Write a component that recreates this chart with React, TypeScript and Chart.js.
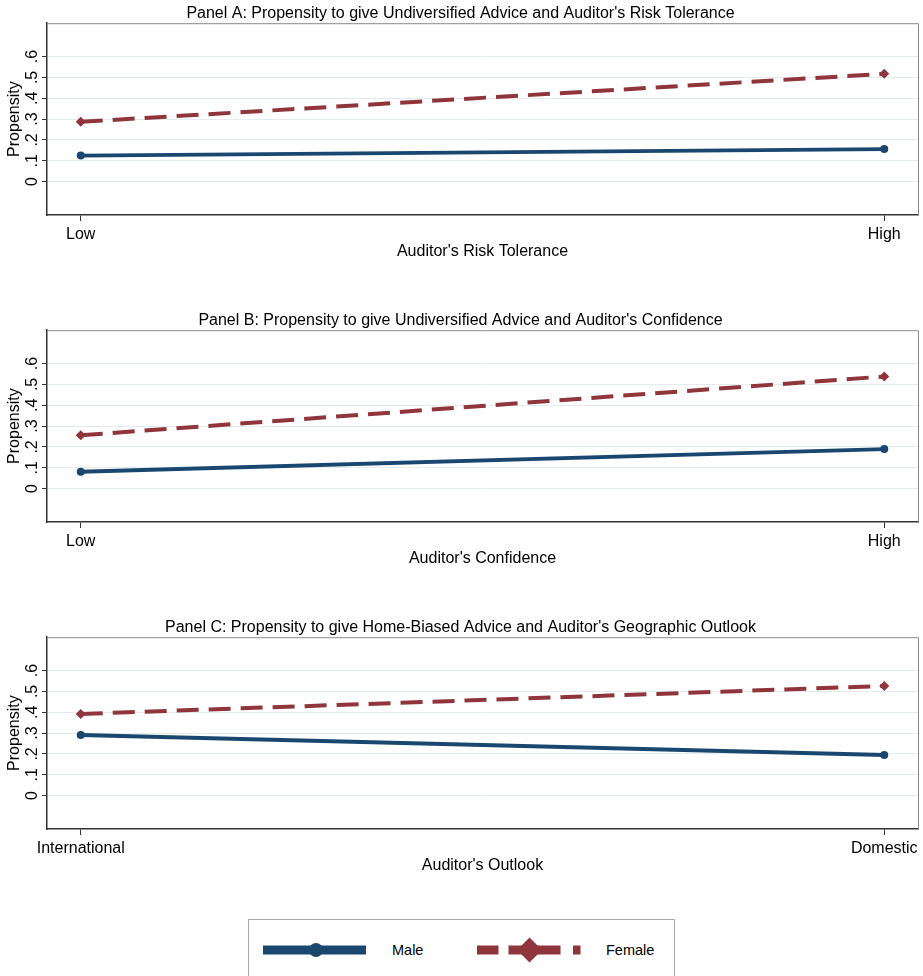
import React, { useEffect, useRef } from "react";
import { Chart, registerables } from "chart.js";

Chart.register(...registerables);

// ---------- data ----------
const xPositions = [0, 1];
const yTicks = [0, 0.1, 0.2, 0.3, 0.4, 0.5, 0.6];
const yTickLabels = ["0", ".1", ".2", ".3", ".4", ".5", ".6"];

const titleA = "Panel A: Propensity to give Undiversified Advice and Auditor's Risk Tolerance";
const titleB = "Panel B: Propensity to give Undiversified Advice and Auditor's Confidence";
const titleC = "Panel C: Propensity to give Home-Biased Advice and Auditor's Geographic Outlook";

const xTitleA = "Auditor's Risk Tolerance";
const xTitleB = "Auditor's Confidence";
const xTitleC = "Auditor's Outlook";

const xLabelsA = ["Low", "High"];
const xLabelsB = ["Low", "High"];
const xLabelsC = ["International", "Domestic"];

const maleA = [0.125, 0.156];
const femaleA = [0.287, 0.517];
const maleB = [0.081, 0.19];
const femaleB = [0.256, 0.538];
const maleC = [0.291, 0.195];
const femaleC = [0.392, 0.526];

const yTitle = "Propensity";
const seriesNames = ["Male", "Female"];

// ---------- style ----------
const FONT = '"Liberation Sans", Arial, Helvetica, sans-serif';
const MALE_COLOR = "#1a476f";
const FEMALE_COLOR = "#90353b";
const GRID_COLOR = "#e4ecef";
const AXIS_COLOR = "#333333";
const PANEL_H = 307;
const FS = 16;

const frameBorder = {
  id: "frameBorder",
  afterDraw(chart: any) {
    const { ctx, chartArea } = chart;
    ctx.save();
    ctx.strokeStyle = "#8a8a8a";
    ctx.lineWidth = 1;
    ctx.beginPath();
    ctx.moveTo(chartArea.left, chartArea.top + 0.5);
    ctx.lineTo(chartArea.right + 0.5, chartArea.top + 0.5);
    ctx.lineTo(chartArea.right + 0.5, chartArea.bottom);
    ctx.stroke();
    ctx.restore();
  },
};

type PanelProps = {
  title: string;
  xTitle: string;
  xLabels: string[];
  male: number[];
  female: number[];
  top: number;
};

function Panel({ title, xTitle, xLabels, male, female, top }: PanelProps) {
  const ref = useRef<HTMLCanvasElement | null>(null);
  useEffect(() => {
    if (!ref.current) return;
    const chart = new Chart(ref.current, {
      type: "line",
      data: {
        datasets: [
          {
            label: seriesNames[0],
            data: xPositions.map((x, i) => ({ x, y: male[i] })),
            borderColor: MALE_COLOR,
            backgroundColor: MALE_COLOR,
            borderWidth: 3.8,
            pointStyle: "circle",
            pointRadius: 4,
            pointBorderWidth: 0,
            pointBackgroundColor: MALE_COLOR,
            tension: 0,
          },
          {
            label: seriesNames[1],
            data: xPositions.map((x, i) => ({ x, y: female[i] })),
            borderColor: FEMALE_COLOR,
            backgroundColor: FEMALE_COLOR,
            borderWidth: 4,
            borderDash: [22, 10],
            pointStyle: "rectRot",
            pointRadius: 5,
            pointBorderWidth: 0,
            pointBackgroundColor: FEMALE_COLOR,
            tension: 0,
          },
        ],
      },
      options: {
        animation: false,
        responsive: false,
        maintainAspectRatio: false,
        layout: { padding: { left: 0, right: 2, top: 0, bottom: PANEL_H - 215 - 46 } },
        plugins: {
          legend: { display: false },
          tooltip: { enabled: false },
          title: {
            display: true,
            text: title,
            color: "#000",
            font: { family: FONT, size: FS, weight: "normal" },
            padding: { top: 4, bottom: 0 },
          },
        },
        scales: {
          x: {
            type: "linear",
            min: -0.042,
            max: 1.042,
            afterBuildTicks: (scale: any) => {
              scale.ticks = xPositions.map((v) => ({ value: v }));
            },
            afterFit: (scale: any) => {
              scale.height = 46;
            },
            ticks: {
              autoSkip: false,
              maxRotation: 0,
              minRotation: 0,
              padding: 4,
              color: "#000",
              font: { family: FONT, size: FS },
              callback: (_v: any, i: number) => xLabels[i],
            },
            grid: {
              drawOnChartArea: false,
              drawTicks: true,
              tickLength: 6,
              tickColor: AXIS_COLOR,
              tickWidth: 1,
            },
            border: { display: true, color: AXIS_COLOR, width: 1.5 },
            title: {
              display: true,
              text: xTitle,
              color: "#000",
              font: { family: FONT, size: FS },
              padding: { top: 0, bottom: 0 },
            },
          },
          y: {
            type: "linear",
            min: -0.16,
            max: 0.76,
            afterBuildTicks: (scale: any) => {
              scale.ticks = yTicks.map((v) => ({ value: v }));
            },
            afterFit: (scale: any) => {
              scale.width = 47;
            },
            ticks: {
              autoSkip: false,
              minRotation: 90,
              maxRotation: 90,
              crossAlign: "center",
              padding: 3,
              color: "#000",
              font: { family: FONT, size: FS },
              callback: (_v: any, i: number) => yTickLabels[i],
            },
            grid: {
              drawOnChartArea: true,
              color: GRID_COLOR,
              lineWidth: 1,
              drawTicks: true,
              tickLength: 5,
              tickColor: AXIS_COLOR,
              tickWidth: 1,
            },
            border: { display: true, color: AXIS_COLOR, width: 1.5 },
            title: {
              display: true,
              text: yTitle,
              color: "#000",
              font: { family: FONT, size: FS },
              padding: { top: 5, bottom: 0 },
            },
          },
        },
      },
      plugins: [frameBorder],
    } as any);
    return () => chart.destroy();
  }, []);
  return (
    <div style={{ position: "absolute", left: 0, top, width: 923, height: PANEL_H }}>
      <canvas ref={ref} width={923} height={PANEL_H} style={{ width: 923, height: PANEL_H, display: "block" }} />
    </div>
  );
}

function Legend() {
  return (
    <div
      style={{
        position: "absolute",
        left: 248,
        top: 919,
        width: 427,
        height: 80,
        border: "1.5px solid #a9a9a9",
        boxSizing: "border-box",
        background: "#fff",
        fontFamily: FONT,
        fontSize: 14.5,
        color: "#000",
      }}
    >
      <svg style={{ position: "absolute", left: 14, top: 20 }} width={110} height={20}>
        <line x1={0} y1={10} x2={103} y2={10} stroke={MALE_COLOR} strokeWidth={9} />
        <circle cx={53} cy={10} r={7} fill={MALE_COLOR} />
      </svg>
      <div style={{ position: "absolute", left: 143, top: 21, lineHeight: "18px" }}>{seriesNames[0]}</div>
      <svg style={{ position: "absolute", left: 228, top: 16, width: 110, height: 28 }} width={110} height={28}>
        <rect x={0} y={9.5} width={21.5} height={9} fill={FEMALE_COLOR} />
        <rect x={31.5} y={9.5} width={52} height={9} fill={FEMALE_COLOR} />
        <polygon points="52.5,1.5 65,14 52.5,26.5 40,14" fill={FEMALE_COLOR} />
        <rect x={96} y={9.5} width={7.5} height={9} fill={FEMALE_COLOR} />
      </svg>
      <div style={{ position: "absolute", left: 357, top: 21, lineHeight: "18px" }}>{seriesNames[1]}</div>
    </div>
  );
}

export default function App() {
  return (
    <div style={{ position: "absolute", left: 0, top: 0, width: 923, height: 976, background: "#fff", overflow: "hidden" }}>
      <Panel title={titleA} xTitle={xTitleA} xLabels={xLabelsA} male={maleA} female={femaleA} top={0} />
      <Panel title={titleB} xTitle={xTitleB} xLabels={xLabelsB} male={maleB} female={femaleB} top={PANEL_H} />
      <Panel title={titleC} xTitle={xTitleC} xLabels={xLabelsC} male={maleC} female={femaleC} top={PANEL_H * 2} />
      <Legend />
    </div>
  );
}
